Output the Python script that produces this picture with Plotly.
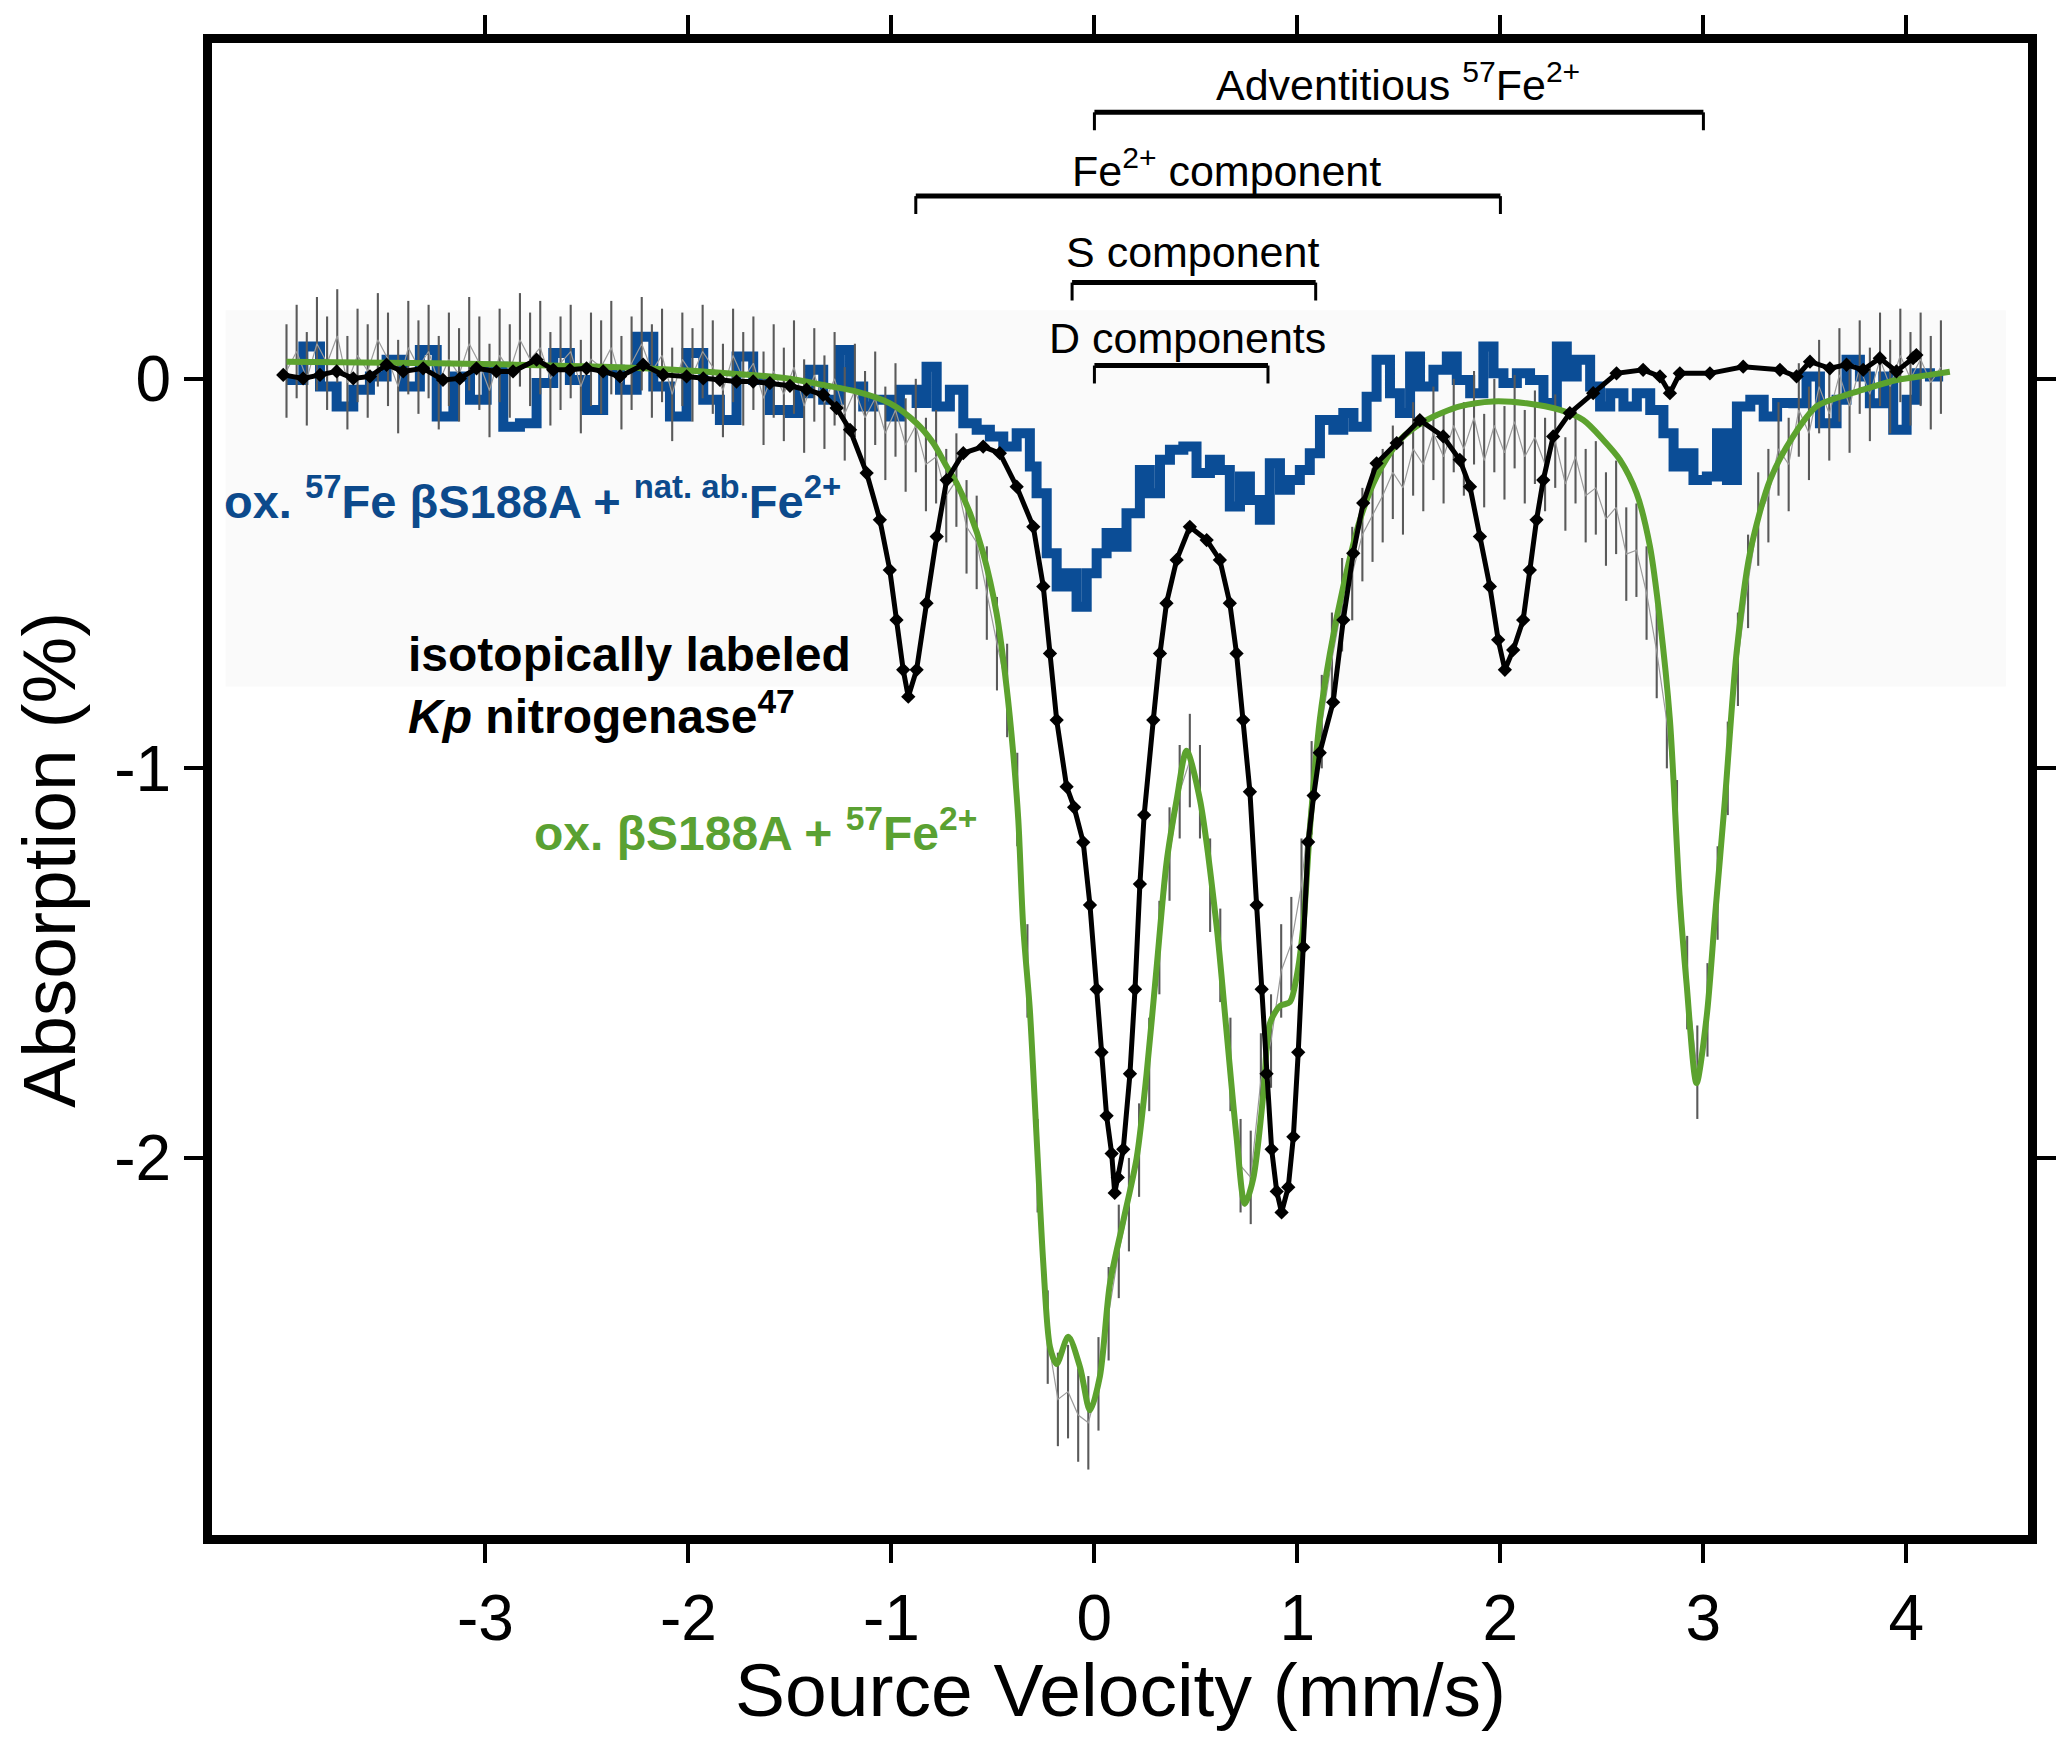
import plotly.graph_objects as go

# ---------------- data ----------------
# Raw spectrum of ox. βS188A + 57Fe2+ (gray data with error bars)
gray_velocity = [-3.98, -3.93, -3.88, -3.83, -3.78, -3.73, -3.68, -3.63, -3.58, -3.53,
                 -3.48, -3.43, -3.38, -3.33, -3.28, -3.23, -3.18, -3.13, -3.08, -3.03,
                 -2.98, -2.93, -2.88, -2.83, -2.78, -2.73, -2.68, -2.63, -2.58, -2.53,
                 -2.48, -2.43, -2.38, -2.33, -2.28, -2.23, -2.18, -2.13, -2.08, -2.03,
                 -1.98, -1.93, -1.88, -1.83, -1.78, -1.73, -1.68, -1.63, -1.58, -1.53,
                 -1.48, -1.43, -1.38, -1.33, -1.28, -1.23, -1.18, -1.13, -1.08, -1.03,
                 -0.98, -0.93, -0.88, -0.83, -0.78, -0.73, -0.68, -0.63, -0.58, -0.53,
                 -0.48, -0.43, -0.38, -0.33, -0.28, -0.23, -0.18, -0.13, -0.08, -0.03,
                 0.02, 0.07, 0.12, 0.17, 0.22, 0.27, 0.32, 0.37, 0.42, 0.47,
                 0.52, 0.57, 0.62, 0.67, 0.72, 0.77, 0.82, 0.87, 0.92, 0.97,
                 1.02, 1.07, 1.12, 1.17, 1.22, 1.27, 1.32, 1.37, 1.42, 1.47,
                 1.52, 1.57, 1.62, 1.67, 1.72, 1.77, 1.82, 1.87, 1.92, 1.97,
                 2.02, 2.07, 2.12, 2.17, 2.22, 2.27, 2.32, 2.37, 2.42, 2.47,
                 2.52, 2.57, 2.62, 2.67, 2.72, 2.77, 2.82, 2.87, 2.92, 2.97,
                 3.02, 3.07, 3.12, 3.17, 3.22, 3.27, 3.32, 3.37, 3.42, 3.47,
                 3.52, 3.57, 3.62, 3.67, 3.72, 3.77, 3.82, 3.87, 3.92, 3.97,
                 4.02, 4.07, 4.12, 4.17]
gray_absorption = [0.02, 0.07, 0.00, 0.09, 0.04, 0.11, -0.01, 0.06, 0.02, 0.10,
                   0.05, -0.02, 0.08, 0.03, 0.07, -0.01, 0.05, 0.01, 0.09, 0.04,
                   -0.03, 0.06, 0.02, 0.10, 0.05, 0.08, 0.00, 0.04, 0.07, -0.02,
                   0.05, 0.03, 0.08, -0.01, 0.04, 0.09, 0.02, 0.06, -0.04, 0.05,
                   0.01, 0.07, 0.03, -0.03, 0.06, 0.00, 0.04, -0.05, 0.02, -0.04,
                   0.03, -0.07, 0.01, -0.06, 0.00, -0.09, -0.03, -0.10, -0.05, -0.14,
                   -0.08, -0.17, -0.12, -0.22, -0.20, -0.30, -0.26, -0.38, -0.42, -0.55,
                   -0.68, -0.80, -1.08, -1.52, -2.02, -2.46, -2.62, -2.60, -2.66, -2.68,
                   -2.58, -2.40, -2.24, -2.12, -1.98, -1.76, -1.46, -1.22, -1.06, -0.98,
                   -1.06, -1.30, -1.48, -1.76, -2.02, -2.05, -1.80, -1.70, -1.52, -1.45,
                   -1.30, -1.05, -0.88, -0.72, -0.58, -0.50, -0.40, -0.35, -0.30, -0.24,
                   -0.28, -0.18, -0.22, -0.14, -0.20, -0.12, -0.18, -0.10, -0.21, -0.12,
                   -0.19, -0.11, -0.20, -0.15, -0.22, -0.16, -0.27, -0.20, -0.30, -0.28,
                   -0.36, -0.33, -0.45, -0.44, -0.55, -0.70, -0.88, -1.15, -1.55, -1.78,
                   -1.62, -1.32, -1.00, -0.72, -0.52, -0.36, -0.30, -0.18, -0.22, -0.08,
                   -0.14, -0.02, -0.09, 0.01, -0.07, 0.03, -0.04, 0.05, -0.02, 0.06,
                   0.00, 0.05, -0.01, 0.03]
gray_error = 0.12

# Fit of ox. βS188A + 57Fe2+ (green curve)
fit_velocity = [-3.98, -3.24, -2.42, -1.93, -1.50, -1.336, -1.171, -1.007, -0.876, -0.794,
                -0.728, -0.679, -0.613, -0.548, -0.482, -0.433, -0.400, -0.375, -0.351, -0.318,
                -0.285, -0.252, -0.219, -0.186, -0.129, -0.071, -0.022, 0.027, 0.076, 0.142,
                0.208, 0.257, 0.306, 0.355, 0.405, 0.454, 0.520, 0.602, 0.651, 0.700,
                0.741, 0.782, 0.832, 0.865, 0.914, 0.963, 0.996, 1.029, 1.061, 1.110,
                1.160, 1.226, 1.308, 1.390, 1.505, 1.636, 1.800, 1.964, 2.128, 2.293,
                2.408, 2.507, 2.589, 2.671, 2.737, 2.786, 2.835, 2.884, 2.917, 2.966,
                3.016, 3.057, 3.106, 3.163, 3.229, 3.328, 3.442, 3.557, 3.623, 3.787,
                3.951, 4.115, 4.214]
fit_absorption = [0.044, 0.040, 0.031, 0.019, 0.000, -0.016, -0.033, -0.063, -0.114, -0.165,
                  -0.225, -0.268, -0.345, -0.448, -0.602, -0.790, -0.961, -1.132, -1.405, -1.621,
                  -1.946, -2.270, -2.485, -2.529, -2.459, -2.537, -2.648, -2.561, -2.324, -2.162,
                  -2.000, -1.784, -1.513, -1.243, -1.081, -0.955, -1.081, -1.405, -1.676, -1.946,
                  -2.118, -2.054, -1.837, -1.654, -1.610, -1.600, -1.535, -1.405, -1.160, -0.876,
                  -0.705, -0.533, -0.362, -0.251, -0.157, -0.106, -0.071, -0.058, -0.063, -0.080,
                  -0.106, -0.157, -0.208, -0.294, -0.431, -0.619, -0.876, -1.338, -1.552, -1.808,
                  -1.637, -1.381, -1.081, -0.705, -0.448, -0.260, -0.148, -0.071, -0.055, -0.028,
                  -0.003, 0.010, 0.018]

# Isotopically labeled Kp nitrogenase (black)
kp_velocity = [-3.996, -3.898, -3.815, -3.733, -3.651, -3.569, -3.487, -3.405, -3.307, -3.209,
               -3.126, -3.044, -2.946, -2.864, -2.748, -2.666, -2.584, -2.502, -2.420, -2.337,
               -2.223, -2.124, -2.009, -1.927, -1.845, -1.763, -1.681, -1.599, -1.500,
               -1.418, -1.336, -1.270, -1.204, -1.122, -1.057, -1.008, -0.975, -0.942, -0.917,
               -0.876, -0.827, -0.777, -0.728, -0.646, -0.548, -0.466, -0.383, -0.301, -0.252,
               -0.219, -0.186, -0.137, -0.100, -0.055, -0.022, 0.011, 0.035, 0.060, 0.085,
               0.100, 0.115, 0.142, 0.175, 0.200, 0.224, 0.245, 0.290, 0.323, 0.355,
               0.405, 0.470, 0.553, 0.618, 0.667, 0.700, 0.733, 0.766, 0.799, 0.824,
               0.848, 0.873, 0.898, 0.922, 0.955, 0.980, 1.004, 1.029, 1.053, 1.080,
               1.110, 1.176, 1.226, 1.275, 1.324, 1.390, 1.489, 1.603, 1.718, 1.800,
               1.850, 1.899, 1.948, 1.989, 2.022, 2.063, 2.112, 2.145, 2.178, 2.211,
               2.260, 2.342, 2.457, 2.572, 2.703, 2.786, 2.835, 2.884, 3.032, 3.196,
               3.377, 3.459, 3.525, 3.623, 3.705, 3.787, 3.869, 3.951, 4.033, 4.049]
kp_absorption = [0.010, 0.001, 0.010, 0.019, 0.001, 0.006, 0.036, 0.019, 0.027, -0.003,
                 0.001, 0.027, 0.019, 0.019, 0.049, 0.023, 0.023, 0.027, 0.019, 0.006,
                 0.036, 0.010, 0.006, 0.001, -0.003, -0.007, -0.007, -0.011, -0.018,
                 -0.028, -0.041, -0.075, -0.131, -0.242, -0.362, -0.491, -0.619, -0.747, -0.816,
                 -0.747, -0.576, -0.405, -0.260, -0.191, -0.174, -0.191, -0.277, -0.380, -0.533,
                 -0.705, -0.876, -1.047, -1.100, -1.190, -1.351, -1.567, -1.729, -1.892, -1.989,
                 -2.090, -2.050, -1.978, -1.784, -1.567, -1.297, -1.120, -0.876, -0.705, -0.576,
                 -0.465, -0.380, -0.414, -0.465, -0.576, -0.705, -0.876, -1.060, -1.351, -1.567,
                 -1.784, -1.978, -2.086, -2.140, -2.075, -1.946, -1.729, -1.459, -1.189, -1.070,
                 -0.960, -0.830, -0.619, -0.448, -0.319, -0.217, -0.165, -0.106, -0.148, -0.208,
                 -0.277, -0.405, -0.533, -0.670, -0.747, -0.696, -0.619, -0.491, -0.362, -0.260,
                 -0.148, -0.088, -0.037, 0.014, 0.023, 0.006, -0.037, 0.014, 0.014, 0.031,
                 0.023, 0.006, 0.044, 0.027, 0.036, 0.023, 0.053, 0.019, 0.053, 0.061]

# ox. 57Fe βS188A + nat. ab. Fe2+ (blue, stepped)
blue_velocity = [-3.979, -3.897, -3.815, -3.733, -3.651, -3.569, -3.487, -3.405, -3.323, -3.240,
                 -3.158, -3.076, -2.994, -2.912, -2.830, -2.748, -2.666, -2.584, -2.502, -2.420,
                 -2.337, -2.255, -2.173, -2.091, -2.009, -1.927, -1.845, -1.763, -1.681, -1.599,
                 -1.500, -1.451, -1.401, -1.336, -1.254, -1.204, -1.139, -1.089, -1.007, -0.958,
                 -0.876, -0.827, -0.777, -0.712, -0.646, -0.580, -0.515, -0.449, -0.383, -0.318,
                 -0.285, -0.235, -0.186, -0.137, -0.088, -0.038, 0.011, 0.060, 0.109, 0.158,
                 0.224, 0.273, 0.323, 0.372, 0.438, 0.503, 0.569, 0.618, 0.667, 0.717,
                 0.766, 0.815, 0.864, 0.914, 0.963, 1.012,
                 1.061, 1.111, 1.177, 1.226, 1.276, 1.341, 1.390, 1.456, 1.505, 1.555,
                 1.604, 1.670, 1.736, 1.785, 1.851, 1.916, 1.966, 2.015, 2.081, 2.146,
                 2.212, 2.278, 2.327, 2.376, 2.442, 2.491, 2.541, 2.606, 2.672, 2.738,
                 2.803, 2.853, 2.902, 2.951, 3.017, 3.067, 3.116, 3.165, 3.231, 3.297,
                 3.363, 3.443, 3.508, 3.574, 3.656, 3.705, 3.771, 3.820, 3.886, 3.935,
                 4.001, 4.050, 4.116, 4.181]
blue_absorption = [-0.003, 0.083, -0.020, -0.071, -0.028, 0.006, 0.049, -0.020, 0.074, -0.097,
                   0.006, -0.054, 0.031, -0.123, -0.114, -0.011, 0.066, -0.003, -0.080, 0.023,
                   -0.028, 0.108, -0.020, -0.097, 0.066, -0.054, -0.106, 0.057, -0.003, -0.080,
                   -0.088, -0.037, 0.023, -0.054, 0.074, -0.020, -0.071, -0.054, -0.097, -0.028,
                   -0.062, 0.031, -0.071, -0.028, -0.114, -0.131, -0.148, -0.174, -0.140, -0.225,
                   -0.294, -0.448, -0.533, -0.499, -0.585, -0.499, -0.448, -0.396, -0.431, -0.345,
                   -0.234, -0.294, -0.208, -0.182, -0.174, -0.242, -0.208, -0.234, -0.328, -0.251,
                   -0.311, -0.362, -0.217, -0.285, -0.260, -0.234,
                   -0.191, -0.106, -0.131, -0.088, -0.123, -0.046, 0.049, -0.037, -0.088, 0.057,
                   -0.020, 0.023, 0.057, -0.003, -0.037, 0.083, 0.014, -0.011, 0.014, -0.003,
                   -0.062, 0.083, 0.006, 0.049, -0.020, -0.071, -0.037, -0.071, -0.037, -0.080,
                   -0.140, -0.225, -0.191, -0.260, -0.251, -0.140, -0.260, -0.071, -0.054, -0.097,
                   -0.062, -0.063, 0.006, -0.114, -0.054, 0.049, 0.006, -0.063, 0.006, -0.131,
                   -0.054, 0.014, 0.006, 0.006]

# axes
x_ticks = [-3, -2, -1, 0, 1, 2, 3, 4]
x_tick_labels = ["-3", "-2", "-1", "0", "1", "2", "3", "4"]
y_ticks = [0, -1, -2]
y_tick_labels = ["0", "-1", "-2"]

# component brackets
component_labels = ["D components", "S component", "Fe<sup>2+</sup> component",
                    "Adventitious <sup>57</sup>Fe<sup>2+</sup>"]
component_start = [0.0, -0.11, -0.88, 0.0]
component_end = [0.855, 1.09, 2.0, 3.0]
component_level = [0.034, 0.247, 0.469, 0.684]
component_label_x = [0.458, 0.481, 0.65, 1.495]
component_label_y = [0.105, 0.325, 0.542, 0.762]

# ---------------- styling ----------------
FONT = "Liberation Sans, Arial, Helvetica, sans-serif"
BLUE = "#0b4d96"
GREEN = "#5ca22e"
GREEN_TXT = "#5aa132"
BLUE_TXT = "#0c4a8c"

fig = go.Figure()

fig.add_trace(go.Scatter(
    x=blue_velocity, y=blue_absorption, mode="lines",
    line=dict(color=BLUE, width=10, shape="hv"), showlegend=False))

fig.add_trace(go.Scatter(
    x=gray_velocity, y=gray_absorption, mode="lines",
    line=dict(color="#9a9a9a", width=1.2),
    error_y=dict(type="constant", value=gray_error, color="#5a5a5a", thickness=2.1, width=0),
    showlegend=False))

fig.add_trace(go.Scatter(
    x=fit_velocity, y=fit_absorption, mode="lines",
    line=dict(color=GREEN, width=6, shape="spline", smoothing=0.8), showlegend=False))

fig.add_trace(go.Scatter(
    x=kp_velocity, y=kp_absorption, mode="lines+markers",
    line=dict(color="black", width=5),
    marker=dict(symbol="diamond", size=11, color="black"), showlegend=False))

shapes = [dict(type="rect", xref="x", yref="y", x0=-4.28, x1=4.49, y0=-0.79, y1=0.176,
               fillcolor="#fafafa", line=dict(width=0), layer="below")]
annotations = []
drop = 0.046
for lab, xs, xe, lv, lx, ly in zip(component_labels, component_start, component_end,
                                   component_level, component_label_x, component_label_y):
    shapes.append(dict(type="line", xref="x", yref="y", x0=xs, x1=xe, y0=lv, y1=lv,
                       line=dict(color="black", width=5)))
    shapes.append(dict(type="line", xref="x", yref="y", x0=xs, x1=xs, y0=lv, y1=lv - drop,
                       line=dict(color="black", width=3)))
    shapes.append(dict(type="line", xref="x", yref="y", x0=xe, x1=xe, y0=lv, y1=lv - drop,
                       line=dict(color="black", width=3)))
    annotations.append(dict(x=lx, y=ly, xref="x", yref="y", text=lab, showarrow=False,
                            xanchor="center", yanchor="middle",
                            font=dict(family=FONT, size=43, color="black")))

annotations += [
    dict(x=-4.298, y=-0.306, xref="x", yref="y", xanchor="left", yanchor="middle",
         text="<b>ox. <sup>57</sup>Fe βS188A + <sup>nat. ab.</sup>Fe<sup>2+</sup></b>",
         showarrow=False, font=dict(family=FONT, size=47, color=BLUE_TXT)),
    dict(x=-3.389, y=-0.788, xref="x", yref="y", xanchor="left", yanchor="middle", align="left",
         text="<b>isotopically labeled<br><i>Kp</i> nitrogenase<sup>47</sup></b>",
         showarrow=False, font=dict(family=FONT, size=48, color="black")),
    dict(x=-2.771, y=-1.158, xref="x", yref="y", xanchor="left", yanchor="middle",
         text="<b>ox. βS188A + <sup>57</sup>Fe<sup>2+</sup></b>",
         showarrow=False, font=dict(family=FONT, size=48, color=GREEN_TXT)),
    dict(x=0.5, y=-0.104, xref="paper", yref="paper", xanchor="center", yanchor="middle",
         text="Source Velocity (mm/s)", showarrow=False,
         font=dict(family=FONT, size=75, color="black")),
    dict(x=-0.0895, y=0.4528, xref="paper", yref="paper", xanchor="center", yanchor="middle",
         text="Absorption (%)", textangle=-90, showarrow=False,
         font=dict(family=FONT, size=75, color="black")),
]

axis_common = dict(showgrid=False, zeroline=False, showline=True, linewidth=9,
                   linecolor="black", mirror="ticks", ticks="outside", ticklen=19,
                   tickwidth=4, tickcolor="black",
                   tickfont=dict(family=FONT, size=64, color="black"))

# the page body adds an 8 px offset, so the figure is 8 px smaller with 8 px less margin
fig.update_layout(
    width=2062, height=1733,
    margin=dict(l=204, r=42, t=35, b=206, autoexpand=False),
    plot_bgcolor="white", paper_bgcolor="white",
    xaxis=dict(range=[-4.347, 4.599], tickvals=x_ticks, ticktext=x_tick_labels, **axis_common),
    yaxis=dict(range=[-2.968, 0.862], tickvals=y_ticks, ticktext=y_tick_labels, **axis_common),
    shapes=shapes, annotations=annotations, showlegend=False,
)

fig.write_html("out.html")
